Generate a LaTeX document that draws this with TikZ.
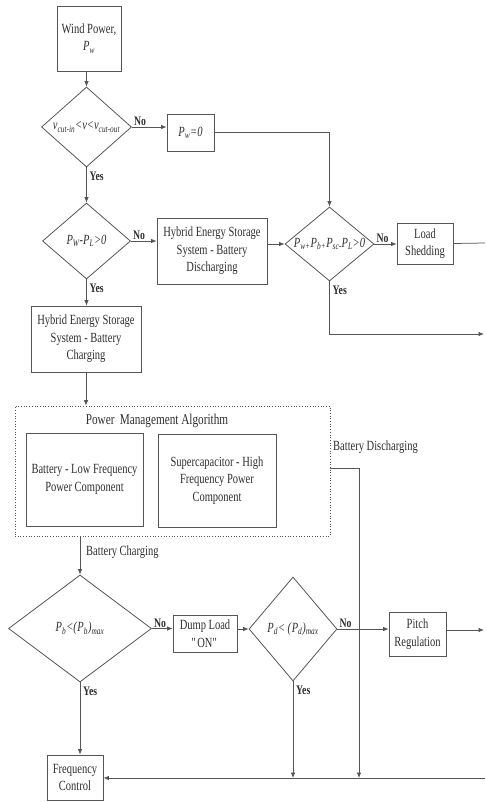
\documentclass[tikz,border=0pt]{standalone}
\usepackage{fontspec}
\setmainfont[FakeStretch=0.75]{Liberation Serif}
\usetikzlibrary{shapes.geometric,arrows.meta}
\definecolor{lc}{HTML}{555555}
\definecolor{tc}{HTML}{2E2E2E}
\newcommand\fsz{\fontsize{14}{17.5}\selectfont}
\newcommand\ynsz{\fontsize{13}{14}\selectfont\bfseries}
\newcommand\Ps[1]{\textit{P\textsubscript{\itshape #1}}}
\newcommand\isub[1]{\textsubscript{\itshape #1}}
\begin{document}
\begin{tikzpicture}[x=1pt,y=-1pt,
  line/.style={draw=lc, line width=0.75pt},
  arr/.style={line, -{Latex[length=5.5pt,width=4.5pt]}},
  box/.style={draw=lc, line width=0.8pt, rectangle, inner sep=0pt, align=center, font=\fsz, text=tc},
  dia/.style={draw=lc, line width=0.8pt, diamond, inner sep=0pt},
  txt/.style={align=center, font=\fsz, text=tc, inner sep=0pt},
  yn/.style={font=\ynsz, text=tc, inner sep=1pt}]
\useasboundingbox (0,0) rectangle (485,802);
% nodes
\node[box, minimum width=64, minimum height=65] (wp) at (89,38.5) {Wind Power,\\ \Ps{w}};
\node[dia, minimum width=90, minimum height=80] (d1) at (86.5,127) {};
\node[txt] (d1t) at (d1) {\textit{v\isub{cut-in}<v<v\isub{cut-out}}};
\node[box, minimum width=47, minimum height=37] (pw0) at (190.5,132.5) {\Ps{w}\textit{=0}};
\node[dia, minimum width=88, minimum height=76] (d2) at (86.5,241) {};
\node[txt] (d2t) at (d2) {\Ps{W}\textit{-}\Ps{L}\textit{>0}};
\node[box, minimum width=110, minimum height=66] (hd) at (212,251) {Hybrid Energy Storage\\ System - Battery\\ Discharging};
\node[dia, minimum width=89, minimum height=74] (d3) at (329.5,244) {};
\node[txt] (d3t) at (d3) {\Ps{w+}\Ps{b+}\Ps{sc-}\Ps{L}\textit{>0}};
\node[box, minimum width=56, minimum height=41] (ls) at (425,243.5) {Load\\ Shedding};
\node[box, minimum width=110, minimum height=66] (hc) at (86,339) {Hybrid Energy Storage\\ System - Battery\\ Charging};
\node[draw=lc, line width=0.7pt, dotted, rectangle, minimum width=315, minimum height=130, inner sep=0pt] (pma) at (172.5,471) {};
\node[txt, font=\fontsize{15}{18}\selectfont] (pmat) at (157,421) {Power\, Management Algorithm};
\node[box, minimum width=117, minimum height=93] (b1) at (84.5,479.5) {Battery - Low Frequency\\ Power Component};
\node[box, minimum width=118, minimum height=93] (b2) at (217,480.5) {Supercapacitor - High\\ Frequency Power\\ Component};
\node[txt, anchor=west] (bdl) at (333,447) {Battery Discharging};
\node[txt, anchor=west] (bcl) at (86,552) {Battery Charging};
\node[dia, minimum width=143, minimum height=107] (d4) at (80,628.5) {};
\node[txt] (d4t) at (d4) {\Ps{b}\textit{<(}\Ps{b}\textit{)\isub{max}}};
\node[box, minimum width=64, minimum height=37] (dl) at (205,633.5) {Dump Load\\ \textquotedbl ON\textquotedbl};
\node[dia, minimum width=88, minimum height=104] (d5) at (293,629) {};
\node[txt] (d5t) at (d5) {\Ps{d}\textit{< (}\Ps{d}\textit{)\isub{max}}};
\node[box, minimum width=57, minimum height=44] (pr) at (417.5,634) {Pitch\\ Regulation};
\node[box, minimum width=56, minimum height=45] (fc) at (75,777.5) {Frequency\\ Control};
% free ends
\coordinate (e1) at (485,243);
\coordinate (e2) at (484,334);
\coordinate (e3) at (484,630);
\coordinate (e4) at (485,778);
\coordinate (j1) at (359,778);
\coordinate (j2) at (293,778);
\coordinate (k3) at (329.5,334);
% connectors
\draw[arr] (wp.south -| d1.north) -- (d1.north);
\draw[arr] (d1.east) -- (d1.east -| pw0.west);
\draw[arr] (pw0.east) -| (d3.north);
\draw[arr] (d1.south) -- (d2.north);
\draw[arr] (d2.east) -- (d2.east -| hd.west);
\draw[arr] (hd.east |- d3.west) -- (d3.west);
\draw[arr] (d3.east) -- (d3.east -| ls.west);
\draw[line] (ls.east) -- (e1);
\draw[arr] (d3.south) -- (k3) -- (e2);
\draw[arr] (d2.south) -- (d2.south |- hc.north);
\draw[arr] (hc.south) -- (hc.south |- pma.north);
\draw[arr] (d4.north |- pma.south) -- (d4.north);
\draw[arr] ([yshift=3pt]pma.east) -| (j1);
\draw[arr] (d4.east) -- (d4.east -| dl.west);
\draw[arr] (dl.east |- d5.west) -- (d5.west);
\draw[arr] (d5.east) -- (d5.east -| pr.west);
\draw[arr] (pr.east |- e3) -- (e3);
\draw[arr] (d4.south) -- (d4.south |- fc.north);
\draw[arr] (d5.south) -- (j2);
\draw[arr] (e4) -- (e4 -| fc.east);
% yes/no labels
\node[yn, anchor=south west] (n1) at ([xshift=1pt]d1.east) {No};
\node[yn, anchor=north west] (y1) at ([xshift=2pt,yshift=-3pt]d1.south) {Yes};
\node[yn, anchor=south west] (n2) at ([xshift=1pt]d2.east) {No};
\node[yn, anchor=north west] (y2) at ([xshift=2pt,yshift=-3pt]d2.south) {Yes};
\node[yn, anchor=south west] (n3) at ([xshift=1pt]d3.east) {No};
\node[yn, anchor=north west] (y3) at ([xshift=2pt,yshift=-3pt]d3.south) {Yes};
\node[yn, anchor=south west] (n4) at ([xshift=1pt]d4.east) {No};
\node[yn, anchor=north west] (y4) at ([xshift=2pt,yshift=-3pt]d4.south) {Yes};
\node[yn, anchor=south west] (n5) at ([xshift=1pt]d5.east) {No};
\node[yn, anchor=north west] (y5) at ([xshift=2pt,yshift=-3pt]d5.south) {Yes};
\end{tikzpicture}
\end{document}
